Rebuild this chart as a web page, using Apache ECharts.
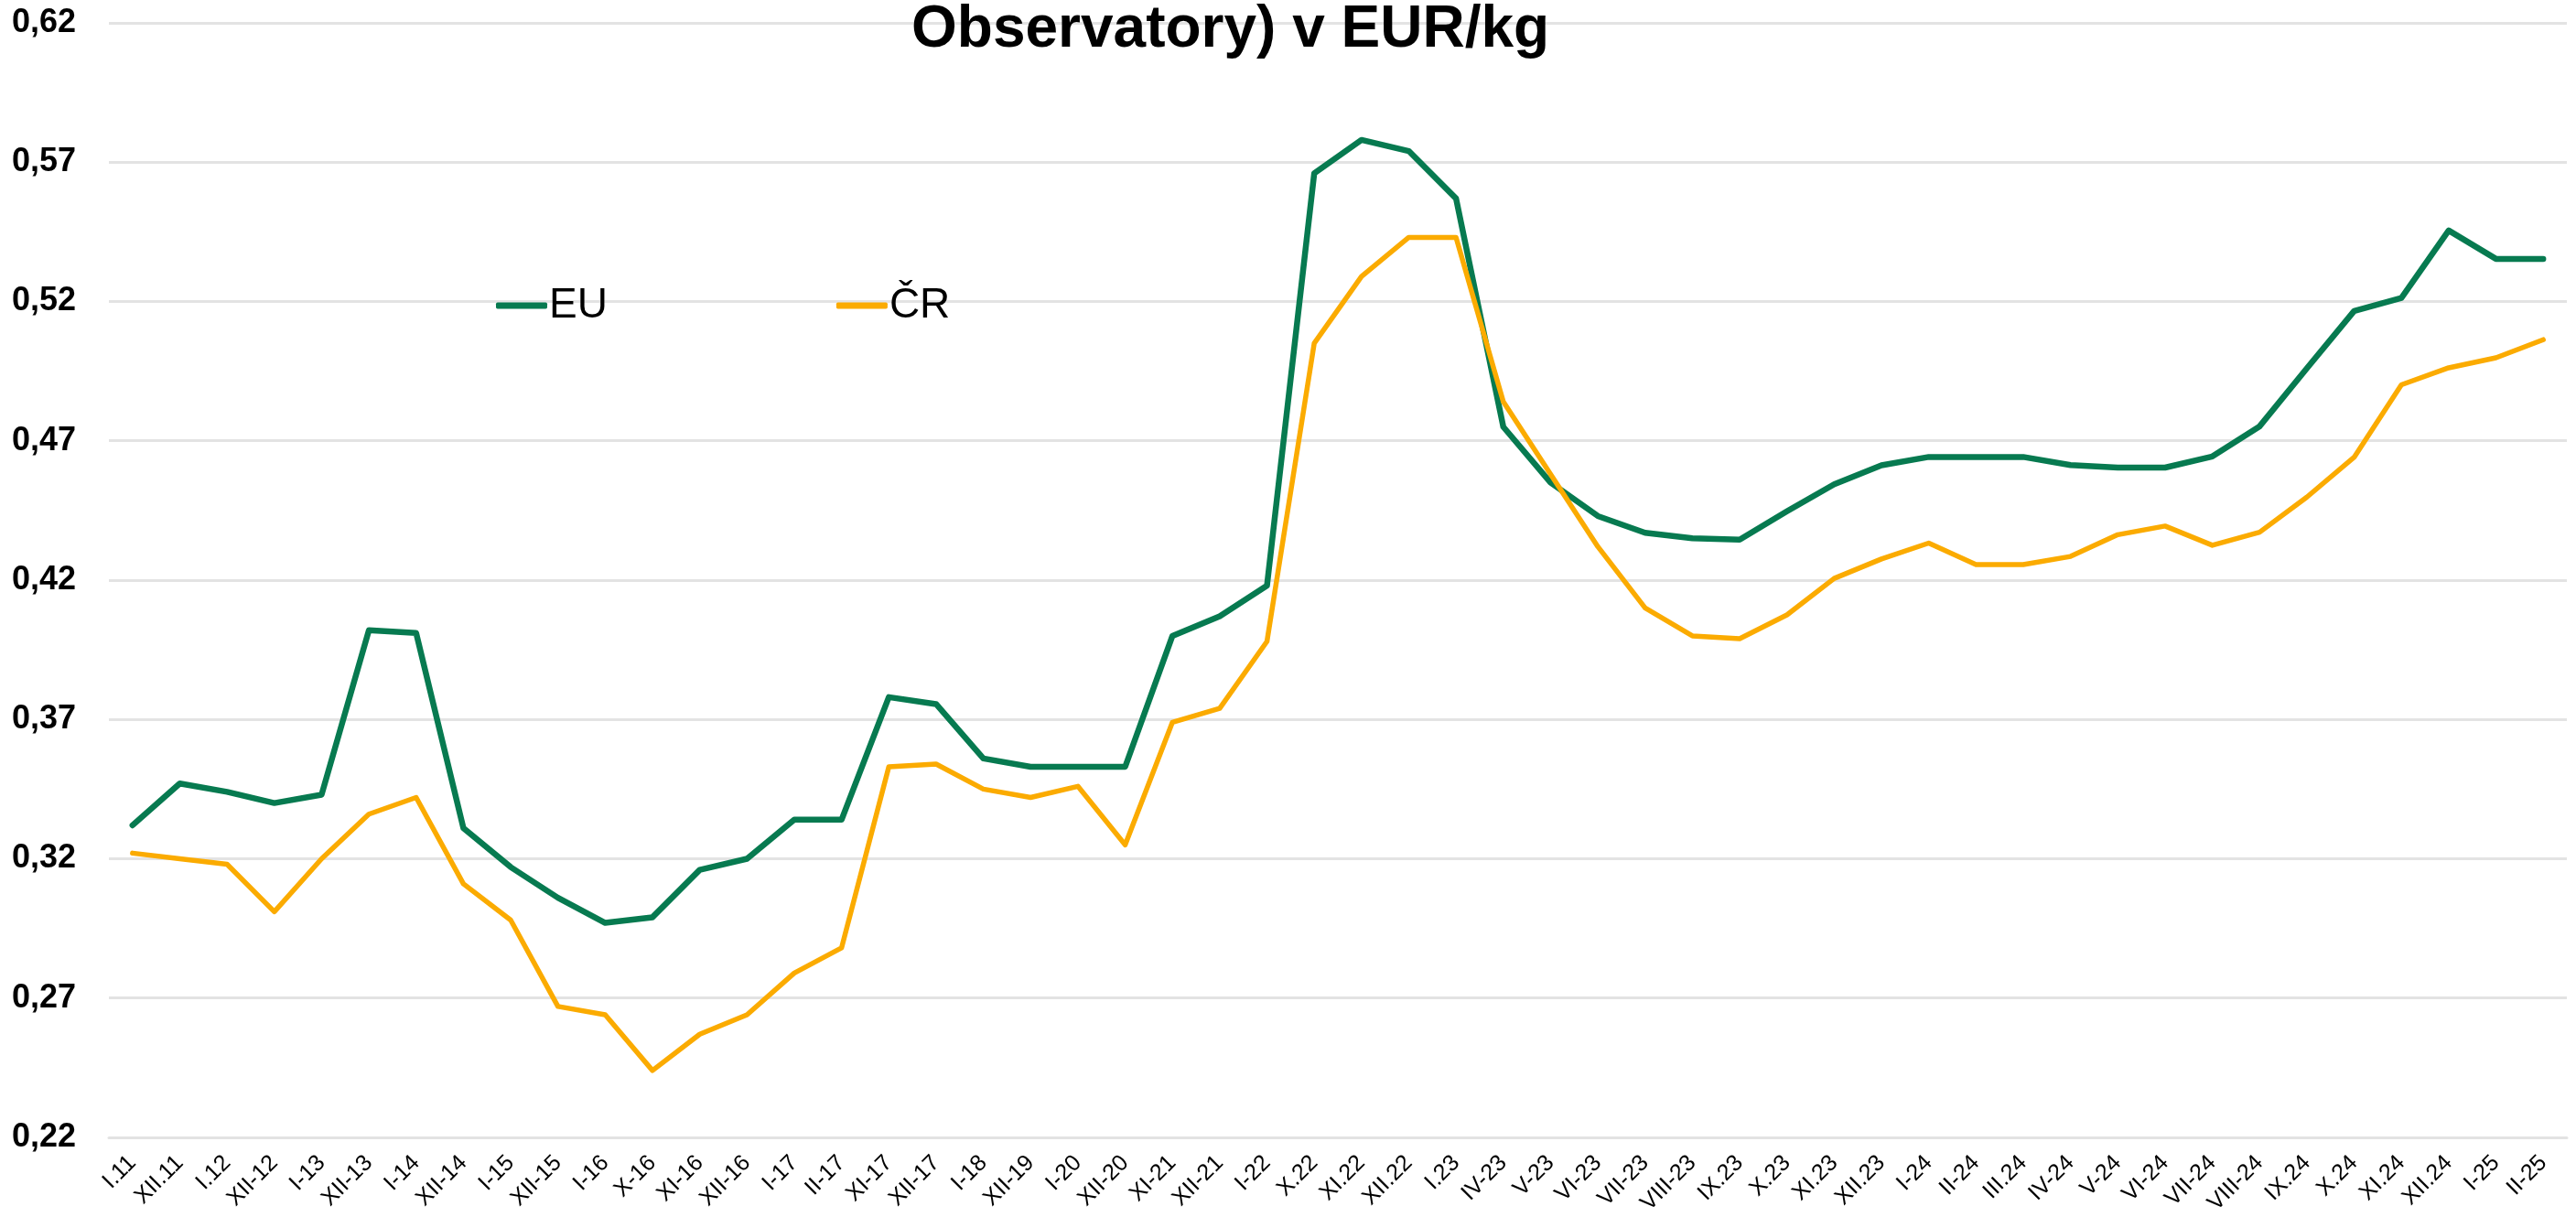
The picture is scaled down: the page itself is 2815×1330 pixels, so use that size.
<!DOCTYPE html>
<html>
<head>
<meta charset="utf-8">
<script src="https://cdn.jsdelivr.net/npm/echarts@6/dist/echarts.min.js"></script>
<style>
html,body{margin:0;padding:0;background:#fff;}
#chart{width:2815px;height:1330px;}
</style>
</head>
<body>
<div id="chart"></div>
<script>
const titleText = 'Observatory) v EUR/kg';
const categories = ['I.11','XII.11','I.12','XII-12','I-13','XII-13','I-14','XII-14','I-15','XII-15','I-16','X-16','XI-16','XII-16','I-17','II-17','XI-17','XII-17','I-18','XII-19','I-20','XII-20','XI-21','XII-21','I-22','X.22','XI.22','XII.22','I.23','IV-23','V-23','VI-23','VII-23','VIII-23','IX.23','X.23','XI.23','XII.23','I-24','II-24','III.24','IV-24','V-24','VI-24','VII-24','VIII-24','IX.24','X.24','XI.24','XII.24','I-25','II-25'];
const euValues = [0.332,0.347,0.344,0.340,0.343,0.402,0.401,0.331,0.317,0.306,0.297,0.299,0.316,0.320,0.334,0.334,0.378,0.3755,0.356,0.353,0.353,0.353,0.400,0.407,0.418,0.566,0.578,0.574,0.557,0.475,0.455,0.443,0.437,0.435,0.4345,0.4447,0.4544,0.4612,0.4642,0.4642,0.4642,0.4613,0.4604,0.4604,0.4644,0.4752,0.496,0.5166,0.5213,0.5455,0.5353,0.5353];
const crValues = [0.322,0.320,0.318,0.301,0.320,0.336,0.342,0.311,0.298,0.267,0.264,0.244,0.257,0.264,0.279,0.288,0.353,0.354,0.345,0.342,0.346,0.325,0.369,0.374,0.398,0.505,0.529,0.543,0.543,0.484,0.458,0.432,0.410,0.400,0.399,0.4075,0.4206,0.4276,0.4333,0.4256,0.4256,0.4285,0.4363,0.4394,0.4325,0.4372,0.4498,0.4641,0.4901,0.4962,0.4998,0.5063];
const seriesNames = ['EU','ČR'];
const yMin = 0.22, yMax = 0.62, yStep = 0.05;

const chart = echarts.init(document.getElementById('chart'));
chart.setOption({
  animation: false,
  backgroundColor: '#ffffff',
  title: {
    text: titleText,
    left: 991,
    top: -4,
    textStyle: {fontFamily: 'Liberation Sans, Arial, sans-serif', fontWeight: 'bold', fontSize: 64, color: '#000'}
  },
  legend: {
    data: seriesNames,
    left: 537,
    top: 306,
    itemWidth: 56,
    itemHeight: 7,
    itemGap: 250,
    icon: 'roundRect',
    textStyle: {fontFamily: 'Liberation Sans, Arial, sans-serif', fontSize: 46, color: '#000', padding: [0,0,0,-3]}
  },
  grid: {left: 119, right: 10, top: 25, bottom: 86},
  xAxis: {
    type: 'category',
    data: categories,
    boundaryGap: true,
    axisLine: {show: true, lineStyle: {color: '#e3e3e3', width: 3}},
    axisTick: {show: false},
    axisLabel: {interval: 0, rotate: 45, margin: 24, fontFamily: 'Liberation Sans, Arial, sans-serif', fontSize: 25, color: '#000'}
  },
  yAxis: {
    type: 'value',
    min: yMin, max: yMax, interval: yStep,
    axisLine: {show: false},
    axisTick: {show: false},
    splitLine: {lineStyle: {color: '#e3e3e3', width: 3}},
    axisLabel: {
      margin: 36,
      fontFamily: 'Liberation Sans, Arial, sans-serif', fontWeight: 'bold', fontSize: 36, color: '#000',
      formatter: v => v.toFixed(2).replace('.', ',')
    }
  },
  series: [
    {name: seriesNames[0], type: 'line', data: euValues, symbol: 'none', color: '#077a50',
     lineStyle: {width: 6.5, color: '#077a50', cap: 'round', join: 'round'}},
    {name: seriesNames[1], type: 'line', data: crValues, symbol: 'none', color: '#fbab00',
     lineStyle: {width: 5.5, color: '#fbab00', cap: 'round', join: 'round'}}
  ]
});
</script>
</body>
</html>
